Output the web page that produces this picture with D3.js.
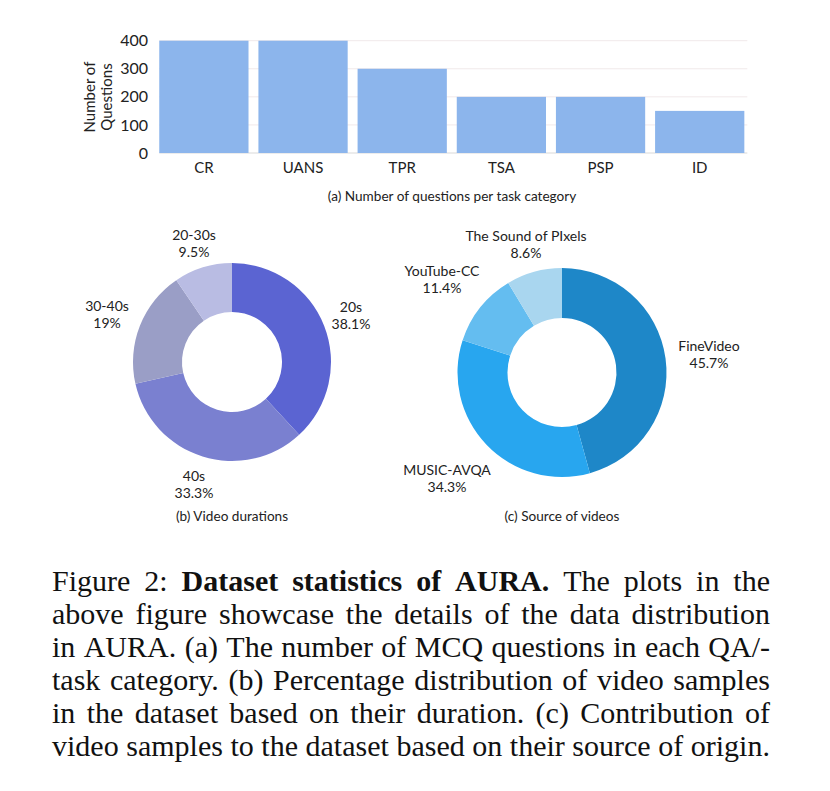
<!DOCTYPE html>
<html>
<head>
<meta charset="utf-8">
<script src="https://cdn.jsdelivr.net/npm/d3@7"></script>
<style>
  body { margin: 0; background: #fff; }
  svg text { font-family: Lato, "Open Sans", sans-serif; fill: #222; }
  .cap text { font-family: "Liberation Serif", "Times New Roman", serif; fill: #111; }
</style>
</head>
<body>
<script>
// Task categories and question counts (panel a)
var categories = ['CR', 'UANS', 'TPR', 'TSA', 'PSP', 'ID'],
    questionCounts = [400, 400, 300, 200, 200, 150],
    yTicks = [0, 100, 200, 300, 400];

// Video durations (panel b)
var durationLabels = ['20s', '40s', '30-40s', '20-30s'],
    durationShares = [38.1, 33.3, 19, 9.5],
    durationColors = ['#5b64d2', '#7a80d0', '#9a9ec6', '#b9bce3'];

// Video sources (panel c)
var sourceLabels = ['FineVideo', 'MUSIC-AVQA', 'YouTube-CC', 'The Sound of PIxels'],
    sourceShares = [45.7, 34.3, 11.4, 8.6],
    sourceColors = ['#1e87c8', '#28a6ef', '#64bdf0', '#a9d6ef'];

var width = 830, height = 791;

var svg = d3.select('body').append('svg')
  .attr('width', width)
  .attr('height', height);

// ---- (a) bar chart ----
var x = d3.scaleBand()
  .domain(categories)
  .range([154.3, 749.3])
  .paddingInner(0.1)
  .paddingOuter(0.05);

var y = d3.scaleLinear()
  .domain([0, 400])
  .range([153, 40.7]);

var bars = svg.append('g');

// light gridlines
bars.selectAll('line.grid')
  .data(yTicks)
  .enter().append('line')
  .attr('x1', x(categories[0]))
  .attr('x2', x(categories[5]) + x.bandwidth() + 3)
  .attr('y1', function (d) { return y(d); })
  .attr('y2', function (d) { return y(d); })
  .attr('stroke', function (d) { return d === 0 ? '#d9d9d9' : '#f1e9ea'; })
  .attr('stroke-width', 1);

bars.selectAll('rect')
  .data(questionCounts)
  .enter().append('rect')
  .attr('x', function (d, i) { return x(categories[i]); })
  .attr('width', x.bandwidth())
  .attr('y', function (d) { return y(d); })
  .attr('height', function (d) { return y(0) - y(d); })
  .attr('fill', '#8cb5ec');

var yAxis = bars.append('g')
  .attr('transform', 'translate(148,0)')
  .call(d3.axisLeft(y).tickValues(yTicks).tickSize(0).tickPadding(0));
yAxis.select('.domain').remove();
yAxis.selectAll('text')
  .style('font-family', 'Lato, sans-serif')
  .style('font-size', '16px')
  .attr('fill', '#222');

var xAxis = bars.append('g')
  .attr('transform', 'translate(0,' + y(0) + ')')
  .call(d3.axisBottom(x).tickSize(0).tickPadding(9));
xAxis.select('.domain').remove();
xAxis.selectAll('text')
  .style('font-family', 'Lato, sans-serif')
  .style('font-size', '15px')
  .attr('fill', '#222');

bars.append('text')
  .attr('transform', 'translate(89,97) rotate(-90)')
  .attr('text-anchor', 'middle')
  .attr('dominant-baseline', 'central')
  .style('font-size', '15px')
  .text('Number of');
bars.append('text')
  .attr('transform', 'translate(106,97) rotate(-90)')
  .attr('text-anchor', 'middle')
  .attr('dominant-baseline', 'central')
  .style('font-size', '15px')
  .text('Questions');

bars.append('text')
  .attr('x', 452).attr('y', 201)
  .attr('text-anchor', 'middle')
  .style('font-size', '13.6px')
  .text('(a) Number of questions per task category');

// ---- donuts ----
function donut(cx, cy, r0, r1, shares, colors, labels, labelPos, caption) {
  var g = svg.append('g').attr('transform', 'translate(' + cx + ',' + cy + ')');
  var pie = d3.pie().sort(null).value(function (d) { return d; });
  var arc = d3.arc().innerRadius(r0).outerRadius(r1);

  g.selectAll('path')
    .data(pie(shares))
    .enter().append('path')
    .attr('d', arc)
    .attr('fill', function (d, i) { return colors[i]; });

  labels.forEach(function (name, i) {
    var t = svg.append('text')
      .attr('text-anchor', 'middle')
      .style('font-size', '14px');
    t.append('tspan')
      .attr('x', labelPos[i][0]).attr('y', labelPos[i][1])
      .text(name);
    t.append('tspan')
      .attr('x', labelPos[i][0]).attr('y', labelPos[i][1] + 16.5)
      .text(shares[i] + '%');
  });

  svg.append('text')
    .attr('x', cx).attr('y', 521)
    .attr('text-anchor', 'middle')
    .style('font-size', '13.6px')
    .text(caption);
}

donut(232, 362, 50, 99, durationShares, durationColors, durationLabels,
  [[351, 312], [194, 481], [107, 311], [194, 240]], '(b) Video durations');

donut(562, 372.5, 54.5, 104.5, sourceShares, sourceColors, sourceLabels,
  [[709, 351], [447, 475], [442, 276], [526, 241]], '(c) Source of videos');

// ---- figure caption, justified ----
var capLines = [
  [['Figure 2: ', 0], ['Dataset statistics of AURA.', 1], [' The plots in the', 0]],
  [['above figure showcase the details of the data distribution', 0]],
  [['in AURA. (a) The number of MCQ questions in each QA/-', 0]],
  [['task category. (b) Percentage distribution of video samples', 0]],
  [['in the dataset based on their duration. (c) Contribution of', 0]],
  [['video samples to the dataset based on their source of origin.', 0]]
];
var capLeft = 52, capRight = 770, capTop = 591, capStep = 33, capSize = 30;
var cap = svg.append('g').attr('class', 'cap');

// build words, measure natural widths
var capRows = capLines.map(function (segs, li) {
  var words = [];
  segs.forEach(function (s) {
    s[0].trim().split(/\s+/).forEach(function (w) { words.push([w, s[1]]); });
  });
  var nodes = words.map(function (w) {
    return cap.append('text')
      .style('font-size', capSize + 'px')
      .style('font-weight', w[1] ? 'bold' : 'normal')
      .text(w[0]);
  });
  var widths = nodes.map(function (n) { return n.node().getComputedTextLength(); });
  return { y: capTop + li * capStep, nodes: nodes, widths: widths };
});

// one horizontal squeeze for all lines so the widest fits with normal spaces
var space = capSize * 0.25;
var sx = d3.min(capRows, function (r) {
  return (capRight - capLeft) / (d3.sum(r.widths) + space * (r.nodes.length - 1));
});

capRows.forEach(function (r) {
  var total = d3.sum(r.widths) * sx;
  var gap = (capRight - capLeft - total) / (r.nodes.length - 1);
  var cx = capLeft;
  r.nodes.forEach(function (n, i) {
    n.attr('transform', 'translate(' + cx + ',' + r.y + ') scale(' + sx + ',1)');
    cx += r.widths[i] * sx + gap;
  });
});
</script>
</body>
</html>
